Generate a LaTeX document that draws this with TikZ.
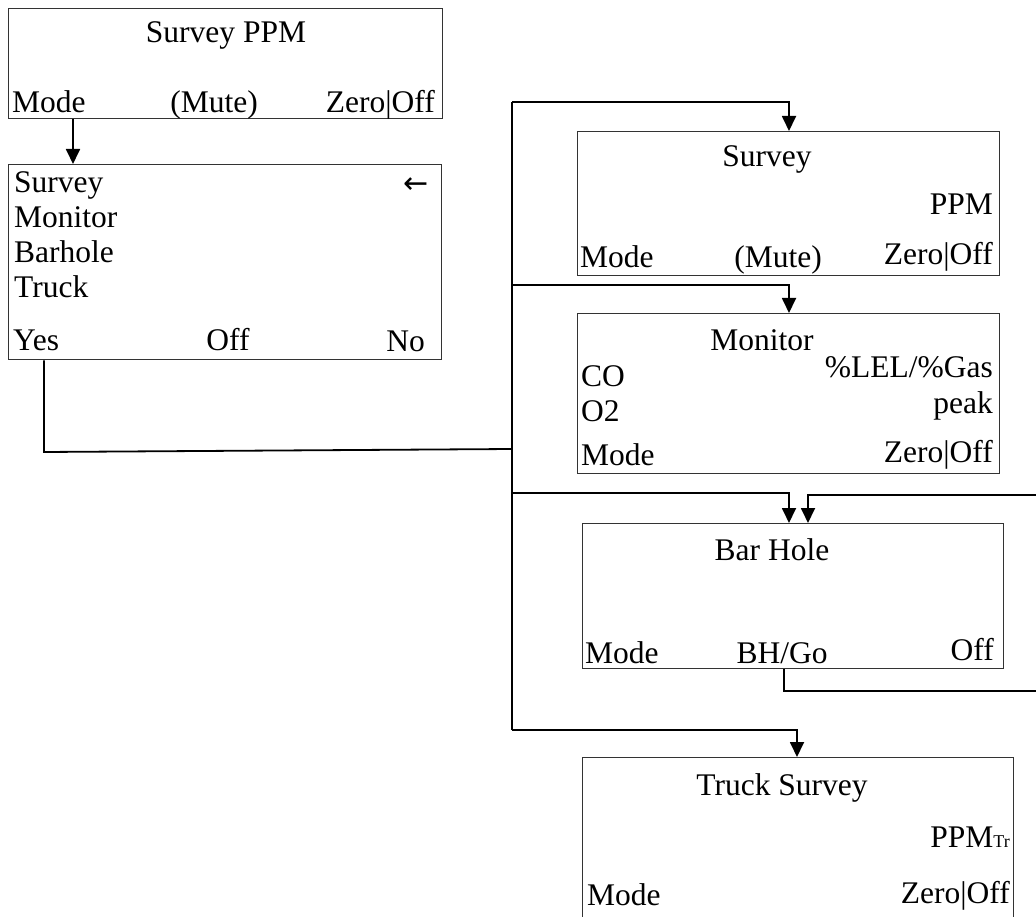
\documentclass[tikz,border=0pt]{standalone}
\usepackage{fontspec}
\setmainfont{Liberation Serif}
\newfontfamily\arrowfont{DejaVu Sans}
\usetikzlibrary{arrows.meta}
\begin{document}
\begin{tikzpicture}[x=1pt,y=-1pt,
  box/.style={draw=black!80, line width=1.3pt, anchor=north west, inner sep=0pt, rectangle},
  conn/.style={draw=black, line width=1.8pt},
  arr/.style={conn, -{Triangle[width=14pt,length=15pt]}},
  txt/.style={inner sep=0pt, font=\fontsize{31.5}{36}\selectfont},
  tl/.style={txt, anchor=base west},
  tc/.style={txt, anchor=base},
  tr/.style={txt, anchor=base east}]
\useasboundingbox (0,0) rectangle (1036,917);
\clip (0,0) rectangle (1036,917);
\fill[white] (0,0) rectangle (1036,917);

% boxes
\node[box, minimum width=434pt, minimum height=110pt] (b1) at (8,8) {};
\node[box, minimum width=433pt, minimum height=195pt] (b2) at (8,164) {};
\node[box, minimum width=422pt, minimum height=144pt] (bs) at (577,131) {};
\node[box, minimum width=422pt, minimum height=160pt] (bm) at (577,313) {};
\node[box, minimum width=421pt, minimum height=145pt] (bb) at (582,523) {};
\node[box, minimum width=431pt, minimum height=180pt] (bt) at (582,757) {};

% box 1 texts
\node[tc] (t1a) at (226,43) {Survey PPM};
\node[tl] (t1b) at (12,113) {Mode};
\node[tc] (t1c) at (214,113) {(Mute)};
\node[tr] (t1d) at (435,113) {Zero|Off};

% box 2 texts
\node[tl] (t2a) at (14,193) {Survey};
\node[tl] (t2b) at (14,228) {Monitor};
\node[tl] (t2c) at (14,263) {Barhole};
\node[tl] (t2d) at (14,298) {Truck};
\node[tr, font=\arrowfont\fontsize{30}{34}\selectfont] (t2e) at (429,194) {←};
\node[tl] (t2f) at (13,350) {Yes};
\node[tc] (t2g) at (228,350) {Off};
\node[tr] (t2h) at (425,351) {No};

% survey box texts
\node[tc] (tsa) at (767,167) {Survey};
\node[tr] (tsb) at (993,215) {PPM};
\node[tl] (tsc) at (580,268) {Mode};
\node[tc] (tsd) at (778,268) {(Mute)};
\node[tr] (tse) at (993,265) {Zero|Off};

% monitor box texts
\node[tc] (tma) at (762,350) {Monitor};
\node[tr] (tmb) at (993,377) {\%LEL/\%Gas};
\node[tl] (tmc) at (581,386) {CO};
\node[tr] (tmd) at (993,413) {peak};
\node[tl] (tme) at (581,421) {O2};
\node[tl] (tmf) at (581,465) {Mode};
\node[tr] (tmg) at (993,462) {Zero|Off};

% bar hole texts
\node[tc] (tba) at (772,560) {Bar Hole};
\node[tl] (tbb) at (585,663) {Mode};
\node[tc] (tbc) at (782,663) {BH/Go};
\node[tr] (tbd) at (994,660) {Off};

% truck texts
\node[tc] (tta) at (782,795) {Truck Survey};
\node[tr] (ttb) at (1010,847) {PPM{\fontsize{18}{20}\selectfont Tr}};
\node[tl] (ttc) at (587,905) {Mode};
\node[tr] (ttd) at (1010,903) {Zero|Off};

% connectors
\coordinate (sp0) at (512,102);
\coordinate (sp1) at (512,285);
\coordinate (sp2) at (512,493);
\coordinate (sp3) at (512,730);
\coordinate (yj) at (512,449);
\coordinate (yc) at (44,452);
\coordinate (lpa) at (784,691);
\coordinate (lpb) at (1045,691);
\coordinate (lpc) at (1045,495);
\coordinate (lpd) at (808,495);

\draw[arr] (b1.south -| 73,0) -- (b2.north -| 73,0);
\draw[conn] (b2.south -| yc) -- (yc) -- (yj);
\draw[conn] (sp3) -- (sp0);
\draw[arr] (sp0) -- (sp0 -| 789,0) -- (bs.north -| 789,0);
\draw[arr] (sp1) -- (sp1 -| 789,0) -- (bm.north -| 789,0);
\draw[arr] (sp2) -- (sp2 -| 789,0) -- (bb.north -| 789,0);
\draw[arr] (sp3) -- (sp3 -| 797,0) -- (bt.north -| 797,0);
\draw[arr] (bb.south -| lpa) -- (lpa) -- (lpb) -- (lpc) -- (lpd) -- (bb.north -| lpd);
\end{tikzpicture}
\end{document}
